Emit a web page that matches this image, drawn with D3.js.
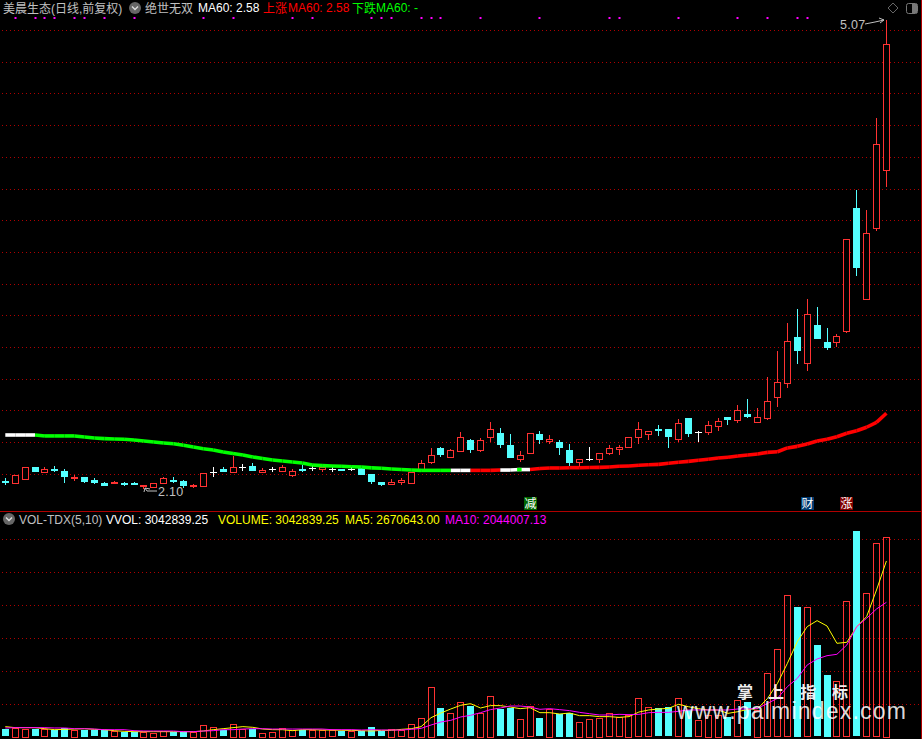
<!DOCTYPE html>
<html><head><meta charset="utf-8">
<script src="https://cdn.jsdelivr.net/npm/d3@7"></script>
<style>html,body{margin:0;padding:0;background:#000;overflow:hidden}
text{font-family:"Liberation Sans","Noto Sans CJK SC",sans-serif;font-size:12px}</style>
</head><body><svg id="c" width="922" height="739"></svg>
<script>
const open=[2.148,2.138,2.163,2.239,2.211,2.227,2.214,2.170,2.176,2.157,2.138,2.135,2.138,2.138,2.116,2.113,2.141,2.160,2.148,2.119,2.122,2.208,2.227,2.211,2.239,2.246,2.211,2.225,2.211,2.186,2.227,2.235,2.225,2.225,2.227,2.225,2.233,2.195,2.144,2.134,2.142,2.140,2.225,2.271,2.360,2.303,2.341,2.408,2.343,2.425,2.455,2.379,2.290,2.330,2.448,2.406,2.398,2.347,2.271,2.290,2.290,2.326,2.355,2.362,2.425,2.446,2.480,2.480,2.412,2.550,2.459,2.461,2.501,2.556,2.533,2.575,2.524,2.550,2.683,2.769,3.061,2.896,3.139,3.029,3.029,3.099,3.878,3.301,3.748,4.116];
const close=[2.142,2.189,2.239,2.208,2.227,2.214,2.176,2.176,2.144,2.138,2.122,2.144,2.125,2.128,2.125,2.141,2.170,2.148,2.119,2.125,2.204,2.208,2.211,2.242,2.239,2.217,2.223,2.225,2.239,2.211,2.214,2.235,2.237,2.225,2.214,2.225,2.189,2.144,2.127,2.144,2.157,2.208,2.265,2.315,2.315,2.345,2.429,2.347,2.408,2.478,2.379,2.296,2.315,2.455,2.410,2.417,2.360,2.265,2.288,2.290,2.326,2.358,2.366,2.427,2.478,2.465,2.467,2.429,2.516,2.448,2.459,2.503,2.531,2.537,2.598,2.556,2.556,2.655,2.776,3.035,2.970,3.206,3.052,2.988,3.067,3.681,3.495,3.719,4.283,4.916];
const high=[2.170,2.189,2.239,2.239,2.239,2.246,2.227,2.189,2.176,2.170,2.144,2.151,2.144,2.144,2.125,2.141,2.176,2.176,2.157,2.132,2.204,2.239,2.239,2.309,2.258,2.265,2.233,2.239,2.252,2.227,2.252,2.252,2.237,2.239,2.227,2.239,2.233,2.195,2.144,2.161,2.172,2.208,2.282,2.357,2.366,2.353,2.459,2.415,2.423,2.522,2.486,2.448,2.341,2.455,2.465,2.442,2.410,2.385,2.288,2.366,2.326,2.377,2.377,2.427,2.524,2.465,2.505,2.480,2.541,2.550,2.467,2.529,2.550,2.556,2.632,2.670,2.613,2.809,2.974,3.151,3.240,3.303,3.253,3.120,3.082,3.681,3.994,3.867,4.450,5.07];
const low=[2.125,2.138,2.160,2.208,2.211,2.208,2.138,2.151,2.138,2.132,2.119,2.132,2.119,2.125,2.100,2.106,2.141,2.138,2.106,2.106,2.122,2.176,2.208,2.211,2.214,2.214,2.211,2.208,2.211,2.176,2.208,2.214,2.208,2.208,2.214,2.214,2.189,2.129,2.119,2.125,2.125,2.140,2.225,2.261,2.303,2.296,2.334,2.328,2.337,2.396,2.360,2.296,2.271,2.330,2.385,2.385,2.315,2.246,2.242,2.277,2.265,2.315,2.315,2.362,2.387,2.410,2.436,2.360,2.396,2.429,2.398,2.442,2.467,2.505,2.518,2.550,2.518,2.537,2.619,2.742,2.894,2.849,3.052,2.982,3.001,3.090,3.451,3.299,3.736,4.014];
// doji days are drawn white
const dojiDays=[21,24,27,31,33,35,59,70];
const ma60=[2.442,2.442,2.442,2.442,2.436,2.436,2.436,2.436,2.429,2.423,2.419,2.417,2.415,2.410,2.404,2.398,2.391,2.387,2.377,2.366,2.355,2.347,2.334,2.325,2.315,2.303,2.293,2.284,2.277,2.271,2.265,2.252,2.248,2.246,2.244,2.241,2.239,2.234,2.231,2.227,2.223,2.220,2.218,2.218,2.218,2.218,2.218,2.218,2.218,2.218,2.220,2.220,2.223,2.223,2.230,2.233,2.233,2.235,2.235,2.236,2.237,2.239,2.244,2.246,2.250,2.254,2.256,2.263,2.269,2.275,2.282,2.288,2.296,2.301,2.309,2.315,2.322,2.332,2.336,2.360,2.370,2.385,2.404,2.415,2.431,2.453,2.469,2.491,2.522,2.58];
// state of each MA60 segment: w flat, g falling, r rising
const ma60Flat=[0,1,2,45,46,50,51,52];
const ma60Falling=[3,4,5,6,7,8,9,10,11,12,13,14,15,16,17,18,19,20,21,22,23,24,25,26,27,28,29,30,31,32,33,34,35,36,37,38,39,40,41,42,43,44];
const ma60GreenDots=[52];
const signalDays=[1,3,4,5,7,8,10,13,20,23,29,31,37,38,39,42,43,44,48,54,61,62,68,74,77,80,81];
const priceGrid=[2.193,2.396,2.598,2.795,2.997,3.200,3.396,3.599,3.802,3.998,4.201,4.403,4.606,4.802,5.005];
const volume=[116,137,126,116,116,111,142,111,111,106,111,86,76,76,76,66,86,71,76,76,187,157,106,202,126,126,66,81,142,101,106,111,111,101,86,96,91,147,86,126,101,202,293,764,435,369,536,465,369,627,420,440,278,465,283,430,354,369,233,278,293,360,299,338,587,451,436,451,587,410,253,334,334,299,557,531,410,967,1331,2150,1973,1968,1396,941,845,2059,3126,2181,2940,3042.839];
const ma5=[157,142,142,142,126,111,116,121,126,116,111,96,86,81,81,81,81,81,81,81,91,111,126,142,157,147,121,111,111,96,111,111,106,106,101,101,96,91,101,101,116,126,157,293,364,425,481,506,440,476,476,455,430,445,369,369,349,364,324,324,309,309,298,309,379,410,425,435,496,460,430,410,410,359,384,420,430,587,815,1118,1447,1675,1766,1685,1422,1437,1675,1826,2231,2670.643];
const ma10=[137,142,142,142,142,137,137,126,126,121,111,111,111,96,91,91,91,91,81,81,91,96,111,111,121,126,126,121,121,121,121,121,121,111,111,111,106,111,106,106,106,116,131,182,228,253,304,329,369,415,440,470,470,455,420,430,415,400,374,354,334,334,344,339,344,369,374,374,390,410,410,410,410,410,425,425,435,511,587,764,890,1093,1184,1234,1255,1396,1675,1801,1943,2044.007];
const volGrid=[500,1000,1500,2000,2500,3000];

const RED="#ff3232",CYAN="#54ffff",GRID="#b00000",DIV="#b00000";
const svg=d3.select("#c");
svg.append("rect").attr("width",922).attr("height",739).attr("fill","#000");
const x=d3.scaleLinear().domain([0,89]).range([5.3,886.4]);
const y=d3.scaleLinear().domain([2.10,5.07]).range([489,20]);
const v=d3.scaleLinear().domain([0,3042.839]).range([737,536.5]);
const cx=i=>Math.floor(x(i))+.5;
const snap=n=>Math.round(n)+.5;
const dots=(vals,sc)=>svg.append("g").selectAll("line").data(vals).join("line")
  .attr("x1",2).attr("x2",920).attr("y1",d=>snap(sc(d))).attr("y2",d=>snap(sc(d)))
  .attr("stroke",GRID).attr("stroke-dasharray","1 3");
dots(priceGrid,y);dots(volGrid,v);
svg.append("line").attr("x1",0).attr("x2",922).attr("y1",511.5).attr("y2",511.5).attr("stroke",DIV);
svg.append("line").attr("x1",921.5).attr("x2",921.5).attr("y1",0).attr("y2",739).attr("stroke",DIV);

svg.append("g").selectAll("rect").data(signalDays).join("rect")
 .attr("x",d=>Math.floor(x(d))-.5).attr("y",17).attr("width",2).attr("height",2).attr("fill","#ff00ff");

const days=d3.range(close.length);
const kind=i=>dojiDays.includes(i)?"w":close[i]>=open[i]?"u":"d";
const col=i=>({w:"#fff",u:RED,d:CYAN})[kind(i)];
const candles=svg.append("g").selectAll("g").data(days).join("g").attr("shape-rendering","crispEdges");
candles.append("line").attr("x1",cx).attr("x2",cx).attr("y1",i=>y(high[i])).attr("y2",i=>y(low[i])).attr("stroke",col);
candles.each(function(i){
  const g=d3.select(this),k=kind(i),top=y(Math.max(open[i],close[i])),bot=y(Math.min(open[i],close[i]));
  if(k==="w"){g.append("line").attr("x1",cx(i)-3.5).attr("x2",cx(i)+3.5).attr("y1",snap(top)).attr("y2",snap(top)).attr("stroke","#fff");}
  else if(k==="u"){g.append("rect").attr("x",cx(i)-3).attr("width",6).attr("y",snap(top)).attr("height",Math.max(1,Math.round(bot-top))).attr("fill","#000").attr("stroke",RED);}
  else{g.append("rect").attr("x",cx(i)-3.5).attr("width",7).attr("y",Math.round(top)).attr("height",Math.max(2,Math.round(bot-top))).attr("fill",CYAN);}
});

const segColor=i=>ma60Flat.includes(i)?"#fff":ma60Falling.includes(i)?"#00ff00":"#ff0000";
svg.append("g").selectAll("line").data(d3.range(89)).join("line")
 .attr("x1",i=>x(i)).attr("x2",i=>x(i+1)).attr("y1",i=>y(ma60[i])).attr("y2",i=>y(ma60[i+1]))
 .attr("stroke",segColor).attr("stroke-width",3.6).attr("stroke-linecap","butt");
svg.append("g").selectAll("rect").data(ma60GreenDots).join("rect")
 .attr("x",d=>x(d)-3).attr("y",d=>y(ma60[d])-1.8).attr("width",4.5).attr("height",3.6).attr("fill","#00ff00");

const label=(t,tx,ty)=>svg.append("text").text(t).attr("x",tx).attr("y",ty).attr("fill","#c0c0c0").attr("style","font-size:12.5px;letter-spacing:.3px");
label("2.10",158,496);
svg.append("path").attr("d","M145 488 L147 491 L157 491 M145 488 L144 492 M145 488 L150 489").attr("stroke","#c0c0c0").attr("fill","none");
label("5.07",840,29);
svg.append("path").attr("d","M865 24 L875 22 L884 20 M884 20 L879 18 M884 20 L880 23").attr("stroke","#c0c0c0").attr("fill","none");

const badge=(i,t,bg)=>{
 svg.append("rect").attr("x",cx(i)-6.5).attr("y",497).attr("width",13).attr("height",13).attr("fill",bg);
 svg.append("text").text(t).attr("x",cx(i)).attr("y",508).attr("text-anchor","middle").attr("fill","#fff").attr("style",'font-family:"Noto Sans CJK SC";font-size:12px');
};
badge(53,"减","#006400");badge(81,"财","#003a70");badge(85,"涨","#800000");

const vols=svg.append("g").attr("shape-rendering","crispEdges");
vols.selectAll("rect").data(days).join("rect")
 .attr("x",i=>kind(i)==="d"?cx(i)-3.5:cx(i)-3).attr("width",i=>kind(i)==="d"?7:6)
 .attr("y",i=>kind(i)==="d"?Math.round(v(volume[i])):snap(v(volume[i])))
 .attr("height",i=>736.5-v(volume[i]))
 .attr("fill",i=>kind(i)==="d"?CYAN:"none").attr("stroke",i=>kind(i)==="d"?"none":RED);
const ln=d3.line().x((d,i)=>x(i)).y(d=>v(d));
svg.append("path").attr("d",ln(ma5)).attr("fill","none").attr("stroke","#ffff00");
svg.append("path").attr("d",ln(ma10)).attr("fill","none").attr("stroke","#ff00ff");

const T=(t,tx,ty,c)=>svg.append("text").text(t).attr("x",tx).attr("y",ty).attr("fill",c);
const chevron=(cxp,cyp)=>{svg.append("circle").attr("cx",cxp).attr("cy",cyp).attr("r",6).attr("fill","#666");
 svg.append("path").attr("d",`M${cxp-3} ${cyp-1.5} L${cxp} ${cyp+1.5} L${cxp+3} ${cyp-1.5}`).attr("stroke","#ddd").attr("stroke-width",1.4).attr("fill","none");};
T("美晨生态(日线,前复权)",3,13,"#c0c0c0");
chevron(135,8);
T("绝世无双",145,13,"#c0c0c0");
T("MA60: 2.58",198,12,"#ffffff");
T("上涨",263,13,"#ff0000");T("MA60: 2.58",288,12,"#ff0000");
T("下跌",352,13,"#00ff00");T("MA60: -",376,12,"#00ff00");
chevron(9,519);
T("VOL-TDX(5,10)",19,524,"#c0c0c0");
T("VVOL: 3042839.25",106,524,"#ffffff");
T("VOLUME: 3042839.25",218,524,"#ffff00");
T("MA5: 2670643.00",345,524,"#ffff00");
T("MA10: 2044007.13",445,524,"#ff00ff");
svg.append("path").attr("d","M893 3 L898 8 L893 13 L888 8 Z").attr("stroke","#666").attr("fill","none");
svg.append("rect").attr("x",906.5).attr("y",3.5).attr("width",11).attr("height",10).attr("rx",2).attr("stroke","#777").attr("fill","none");
svg.append("rect").attr("x",912).attr("y",4).attr("width",5).attr("height",9).attr("fill","#777");

[["掌",737],["上",768],["指",800],["标",832]].forEach(([t,px])=>svg.append("text").text(t).attr("x",px).attr("y",698).attr("fill","#eee").attr("style",'font-family:"Noto Sans CJK SC";font-weight:700;font-size:16px'));
svg.append("text").text("www.palmindex.com").attr("x",677).attr("y",719).attr("fill","#ffffff").attr("fill-opacity",.85).attr("style",'font-family:"Liberation Sans";font-size:23px;letter-spacing:1.2px');
</script></body></html>
